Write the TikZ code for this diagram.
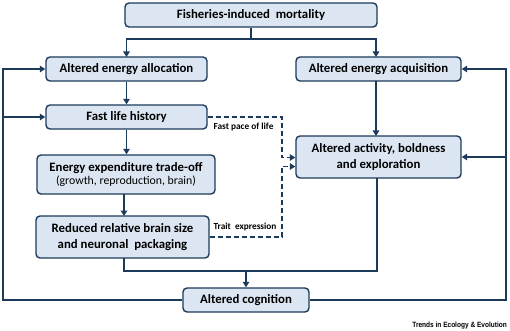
\documentclass[tikz,border=0pt]{standalone}
\usepackage{fontspec}
\setmainfont{Carlito}
\newfontfamily\credfont{Liberation Sans}
\usetikzlibrary{arrows.meta}
\definecolor{navy}{HTML}{1C3A5A}
\definecolor{boxfill}{HTML}{DCE6F2}
\tikzset{
  x=1pt, y=-1pt,
  bx/.style={draw=navy, fill=boxfill, line width=1.4pt, rounded corners=4pt,
    font=\fontsize{12.8}{15}\selectfont\bfseries, text=black, align=center, inner sep=0pt},
  arr/.style={draw=navy, line width=1.7pt, -{Triangle[length=5.5pt,width=6.5pt]}},
  ln/.style={draw=navy, line width=1.7pt},
  dsh/.style={draw=navy, line width=1.7pt, dash pattern=on 5pt off 3pt, -{Triangle[length=5.5pt,width=6.5pt]}},
  lbl/.style={font=\fontsize{9.3}{10}\selectfont\bfseries, text=black, inner sep=0pt}
}
\begin{document}
\begin{tikzpicture}
\useasboundingbox (0,0) rectangle (510,331);
\node[bx, minimum width=252pt, minimum height=24pt] (top) at (251,15) {Fisheries-induced\ \ mortality};
\node[bx, minimum width=161pt, minimum height=24pt] (alloc) at (126.5,69) {Altered energy allocation};
\node[bx, minimum width=165pt, minimum height=24pt] (acq) at (378.5,69) {Altered energy acquisition};
\node[bx, minimum width=161pt, minimum height=24pt] (fast) at (126.5,117) {Fast life history};
\node[bx, minimum width=178pt, minimum height=39pt] (energy) at (126,174.5) {Energy expenditure trade-off\\[-1.5pt]{\mdseries\fontsize{11.8}{13}\selectfont (growth, reproduction, brain)}};
\node[bx, minimum width=173pt, minimum height=42pt] (reduced) at (122.5,237) {Reduced relative brain size\\[1pt]and neuronal\ \ packaging};
\node[bx, minimum width=165pt, minimum height=42pt] (act) at (378.5,157) {Altered activity, boldness\\[1pt]and exploration};
\node[bx, minimum width=126pt, minimum height=24pt] (cog) at (246,300) {Altered cognition};

\node[lbl] (fpl) at (243.5,127) {Fast pace of life};
\node[lbl] (te) at (245,227) {Trait\ \ expression};
\node[anchor=east, inner sep=0pt] (cred) at (507,326) {\scalebox{0.86}[1]{\credfont\bfseries\fontsize{7.6}{8}\selectfont Trends in Ecology \& Evolution}};

\coordinate (tj) at (251,39);
\draw[ln] (top.south) -- (tj);
\draw[arr] (tj) -| (126.5,57);
\draw[arr] (tj) -| (376,57);

\draw[arr] (alloc.south) -- (fast.north);
\draw[arr] (fast.south) -- (fast.south |- energy.north);
\draw[arr] (124,194) -- (124,216);
\draw[arr] (376,81) -- (376,136);

% left loop
\coordinate (L1) at (3,300);
\coordinate (L2) at (3,69);
\coordinate (L3) at (3,117);
\draw[arr] (cog.west) -- (L1) -- (L2) -- (alloc.west);
\draw[arr] (L3) -- (fast.west);
% right loop
\coordinate (R1) at (506,300);
\coordinate (R2) at (506,69);
\coordinate (R3) at (506,157);
\draw[arr] (cog.east) -- (R1) -- (R2) -- (acq.east);
\draw[arr] (R3) -- (act.east);

% bottom join
\coordinate (J) at (246,271);
\draw[ln] (124,258) -- (124,271) -- (377,271) -- (377,178);
\draw[arr] (J) -- (cog.north);

% dashed
\draw[dsh] (fast.east) -- (282,117) -- (282,157.5) -- (act.west |- 0,157.5);
\draw[dsh] (reduced.east) -- (282,237) -- (282,166.5) -- (act.west |- 0,166.5);
\end{tikzpicture}
\end{document}
